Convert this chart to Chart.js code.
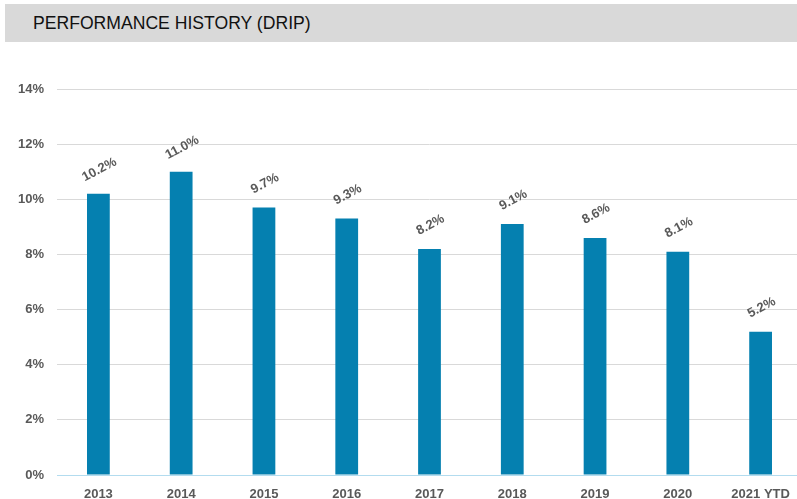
<!DOCTYPE html>
<html>
<head>
<meta charset="utf-8">
<script src="https://cdn.jsdelivr.net/npm/chart.js@4.4.1/dist/chart.umd.min.js"></script>
<style>
    html, body { margin: 0; padding: 0; background: #fff; overflow: hidden; width: 797px; height: 499px; }
    .title-bar {
        position: absolute; left: 5px; top: 4px; width: 792px; height: 38px;
        background: #d9d9d9; font-family: "Liberation Sans", Arial, sans-serif;
        font-size: 17.6px; line-height: 38px; color: #111; padding-left: 28px; box-sizing: border-box;
    }
    #perfChart { position: absolute; left: 0; top: 0; }
</style>
</head>
<body>
<div class="title-bar">PERFORMANCE HISTORY (DRIP)</div>
<canvas id="perfChart" width="802" height="499"></canvas>
<script>
// Annual returns (DRIP), in percent
const years = ['2013', '2014', '2015', '2016', '2017', '2018', '2019', '2020', '2021 YTD'];
const returns = [10.2, 11.0, 9.7, 9.3, 8.2, 9.1, 8.6, 8.1, 5.2];
const yTicks = [0, 2, 4, 6, 8, 10, 12, 14];

const labelFont = 'bold 13px "Liberation Sans", Arial, sans-serif';
const textGray = '#595959';

// draws the rotated value labels above each bar
const barLabels = {
    id: 'barLabels',
    afterDatasetsDraw(chart) {
        const c = chart.ctx;
        const meta = chart.getDatasetMeta(0);
        c.save();
        c.font = labelFont;
        c.fillStyle = textGray;
        c.textAlign = 'center';
        c.textBaseline = 'middle';
        meta.data.forEach((bar, i) => {
            c.save();
            c.translate(bar.x + 1, bar.y - 24);
            c.rotate(-28 * Math.PI / 180);
            c.fillText(returns[i].toFixed(1) + '%', 0, 0);
            c.restore();
        });
        c.restore();
    }
};

new Chart(document.getElementById('perfChart'), {
    type: 'bar',
    data: {
        labels: years,
        datasets: [{
            data: returns,
            backgroundColor: '#0580b0',
            borderWidth: 0,
            barPercentage: 0.275,
            categoryPercentage: 1
        }]
    },
    options: {
        responsive: false,
        animation: false,
        layout: { padding: { top: 89, left: 0, right: 0, bottom: 0 } },
        plugins: { legend: { display: false }, tooltip: { enabled: false } },
        scales: {
            x: {
                grid: { display: false },
                border: { display: true, color: '#b3dcef', width: 1 },
                ticks: {
                    color: textGray,
                    font: { family: '"Liberation Sans", Arial, sans-serif', size: 13, weight: 'bold' },
                    padding: 4, maxRotation: 0
                },
                afterFit(scale) { scale.height = 24; }
            },
            y: {
                min: 0, max: 14,
                afterBuildTicks(scale) { scale.ticks = yTicks.map(v => ({ value: v })); },
                grid: {
                    color: ctx => ctx.tick && ctx.tick.value === 0 ? '#b3dcef' : '#d9d9d9',
                    drawTicks: false
                },
                border: { display: false },
                ticks: {
                    color: textGray,
                    font: { family: '"Liberation Sans", Arial, sans-serif', size: 13, weight: 'bold' },
                    padding: 13,
                    callback: v => v + '%'
                },
                afterFit(scale) { scale.width = 57; }
            }
        }
    },
    plugins: [barLabels]
});
</script>
</body>
</html>
